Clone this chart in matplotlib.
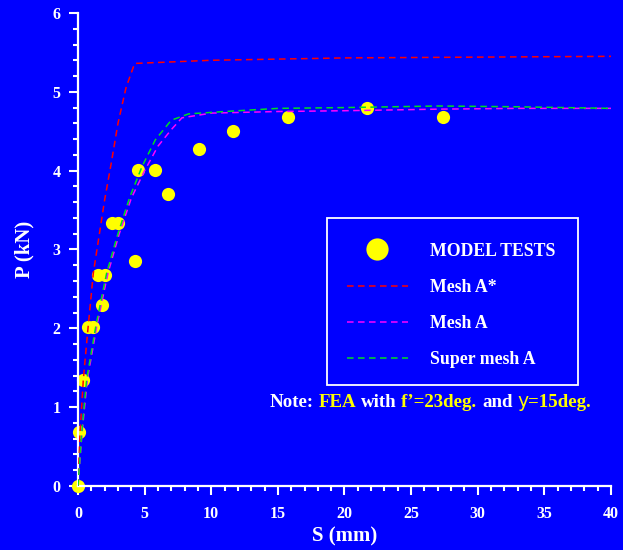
import matplotlib
matplotlib.use("Agg")
import matplotlib.pyplot as plt
from matplotlib.lines import Line2D
from matplotlib.patches import Rectangle
from matplotlib.ticker import MultipleLocator

plt.rcParams['font.family'] = ['Liberation Serif', 'DejaVu Serif']
plt.rcParams['font.weight'] = 'bold'
plt.rcParams['axes.labelweight'] = 'bold'

BLUE = '#0000FF'
YELLOW = '#FFFF00'

# model tests
test_s = [0, 0.08, 0.4, 0.77, 1.15, 1.83, 1.53, 2.03, 2.58, 3.03, 4.28, 4.5, 5.8, 6.75, 9.1, 11.6, 15.75, 21.7, 27.4]
test_p = [0, 0.68, 1.35, 2.02, 2.02, 2.30, 2.68, 2.68, 3.34, 3.34, 2.85, 4.01, 4.01, 3.70, 4.28, 4.50, 4.68, 4.80, 4.68]

# Mesh A*
astar_s = [0, 0.15, 0.4, 0.75, 1.15, 2.0, 2.5, 3.0, 3.6, 4.25, 10, 20, 30, 40]
astar_p = [0, 0.67, 1.35, 2.0, 2.7, 3.63, 4.1, 4.6, 5.05, 5.36, 5.40, 5.43, 5.44, 5.45]

# Mesh A
mesh_s = [0, 0.3, 0.7, 1.4, 2.25, 3.1, 4.0, 5.0, 6.0, 7.0, 7.8, 10, 15, 20, 27, 33, 40]
mesh_p = [0, 0.67, 1.35, 2.02, 2.7, 3.2, 3.65, 4.0, 4.31, 4.52, 4.67, 4.73, 4.75, 4.76, 4.78, 4.79, 4.79]

# Super mesh A
super_s = [0, 0.28, 0.65, 1.33, 2.15, 3.0, 3.9, 4.8, 5.8, 7.0, 8.3, 11, 15, 20, 27, 33, 40]
super_p = [0, 0.67, 1.35, 2.02, 2.7, 3.2, 3.67, 4.05, 4.39, 4.64, 4.72, 4.75, 4.79, 4.80, 4.82, 4.81, 4.79]

fig = plt.figure(figsize=(6.23, 5.5), dpi=100, facecolor=BLUE)
ax = fig.add_axes([0.1252, 0.1164, 0.8555, 0.86])
ax.set_facecolor(BLUE)

dash = (0, (4.3, 2.9))
ax.plot(test_s, test_p, 'o', color=YELLOW, ms=9.5, mec='none', clip_on=False, zorder=2)
ax.plot(astar_s, astar_p, color='#FF0000', lw=1.1, ls=dash, zorder=3)
ax.plot(mesh_s, mesh_p, color='#FF00FF', lw=1.1, ls=dash, zorder=3)
ax.plot(super_s, super_p, color='#00DD22', lw=1.1, ls=dash, zorder=4)

ax.set_xlim(0, 40)
ax.set_ylim(0, 6)
for side in ['top', 'right']:
    ax.spines[side].set_visible(False)
for side in ['left', 'bottom']:
    ax.spines[side].set_color('white')
    ax.spines[side].set_linewidth(1.6)

ax.xaxis.set_major_locator(MultipleLocator(5))
ax.xaxis.set_minor_locator(MultipleLocator(1))
ax.yaxis.set_major_locator(MultipleLocator(1))
ax.yaxis.set_minor_locator(MultipleLocator(0.2))
ax.tick_params(which='both', colors='white', width=1.5, direction='out')
ax.tick_params(which='major', length=6.5, labelsize=11.5)
ax.tick_params(which='minor', length=3.5)
ax.tick_params(axis='x', pad=8)
ax.tick_params(axis='y', pad=6)
for lab in ax.get_xticklabels() + ax.get_yticklabels():
    lab.set_fontweight('bold')

ax.set_xlabel('S (mm)', color='white', fontsize=15, labelpad=3, fontweight='bold')
ax.set_ylabel('P (kN)', color='white', fontsize=15, labelpad=13, fontweight='bold')

# legend box drawn by hand, entries without frame
ax.add_patch(Rectangle((0.467, 0.2135), 0.471, 0.3535, transform=ax.transAxes,
                       fill=False, ec='white', lw=1.3, zorder=5))
handles = [
    Line2D([], [], ls='none', marker='o', color=YELLOW, ms=16, mec='none'),
    Line2D([], [], color='#FF0000', lw=1.1, ls=dash),
    Line2D([], [], color='#FF00FF', lw=1.1, ls=dash),
    Line2D([], [], color='#00DD22', lw=1.1, ls=dash),
]
labels = ['MODEL TESTS', 'Mesh A*', 'Mesh A', 'Super mesh A']
leg = ax.legend(handles, labels, loc='upper left', bbox_to_anchor=(0.4576, 0.567),
                frameon=False, fontsize=12.8, labelcolor='white',
                handlelength=3.43, handletextpad=1.24,
                labelspacing=1.08, borderpad=1.4, borderaxespad=0,
                prop={'weight': 'bold', 'size': 12.8})

# note line made of coloured pieces
note_size = 13.6
pieces = [('Note:', 'white', None), ('FEA', YELLOW, None), ('with', 'white', None),
          ("f\u2019=23deg.", YELLOW, None), ('and', 'white', None),
          ('y', YELLOW, 'DejaVu Sans'), ('=15deg.', YELLOW, 'join')]
fig.canvas.draw()
renderer = fig.canvas.get_renderer()
x0, y0 = ax.transAxes.transform((0.36, 0.167))
space = 0.25 * note_size * 100 / 72
x = x0
for txt, col, fam in pieces:
    kw = dict(fontweight='bold')
    if fam == 'DejaVu Sans':
        kw = dict(family='DejaVu Sans', weight='normal')
        x += space
    elif fam != 'join' and x != x0:
        x += space
    t = fig.text(x / fig.bbox.width, y0 / fig.bbox.height, txt, color=col, fontsize=note_size,
                 va='baseline', ha='left', **kw)
    bb = t.get_window_extent(renderer)
    x = bb.x1

fig.savefig('out.png', dpi=100, facecolor=BLUE)
